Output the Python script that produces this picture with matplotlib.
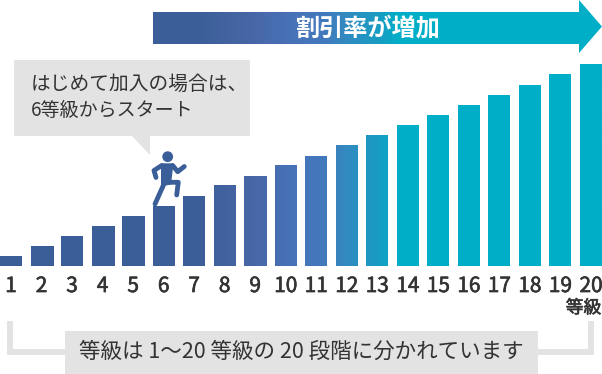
import numpy as np
import matplotlib
matplotlib.use("Agg")
import matplotlib.pyplot as plt
import matplotlib.patheffects as pe
from matplotlib.colors import LinearSegmentedColormap
from matplotlib.patches import Polygon, Rectangle, Circle

plt.rcParams['font.family'] = ['Noto Sans CJK JP', 'DejaVu Sans']

grades = list(range(1, 21))
heights = [10, 20, 30, 40, 50, 60, 70, 81, 90, 101, 110, 121, 131, 141, 151, 161, 171, 181, 192, 202]
tick_labels = [str(g) for g in grades]
arrow_label = "割引率が増加"
callout_lines = ["はじめて加入の場合は、", "6等級からスタート"]
unit_label = "等級"
footer_label = "等級は 1〜20 等級の 20 段階に分かれています"

W, H = 602, 374
DARK = "#333333"
GRAY = "#e3e3e3"
BLUE = "#3a5e97"
faux = [pe.withStroke(linewidth=0.45, foreground=DARK)]

stops = [(0, "#3a5e97"), (200, "#3c5f99"), (250, "#4766a6"), (292, "#4872b8"),
         (325, "#4279bd"), (345, "#3389c0"), (380, "#189dc3"), (400, "#01aec8"), (602, "#00afc8")]
cmap = LinearSegmentedColormap.from_list("g", [(p / W, c) for p, c in stops])
grad = np.linspace(0, 1, W * 2).reshape(1, -1)

fig = plt.figure(figsize=(W / 100, H / 100), dpi=100, facecolor="white")

# Chart axes: spans full width; baseline at y=266 px, top at y=0 px
ax = fig.add_axes([0, (H - 266) / H, 1, 266 / H])
pitch = 580 / 19
x0 = 1 - 11 / pitch
x1 = 20 + 11 / pitch
bars = ax.bar(grades, heights, width=22 / pitch, color=BLUE, linewidth=0, zorder=2)
for b in bars:
    im = ax.imshow(grad, cmap=cmap, vmin=0, vmax=1, aspect="auto",
                   extent=(x0, x1, 0, 266), zorder=3, interpolation="bilinear")
    im.set_clip_path(b)
ax.set_xlim(x0, x1)
ax.set_ylim(0, 266)
ax.set_xticks(grades)
ax.set_xticklabels(tick_labels, fontsize=15, color=DARK, path_effects=faux)
ax.tick_params(axis="x", length=0, pad=6.5)
ax.set_yticks([])
for s in ax.spines.values():
    s.set_visible(False)
ax.patch.set_alpha(0)

# Overlay in pixel coordinates
ov = fig.add_axes([0, 0, 1, 1], zorder=5)
ov.set_xlim(0, W)
ov.set_ylim(H, 0)
ov.axis("off")

# Arrow
arrow = Polygon([(153, 12), (579, 12), (579, 0), (602, 26.5), (579, 53), (579, 44), (153, 44)],
                closed=True, facecolor="none", edgecolor="none", transform=ov.transData)
ov.add_patch(arrow)
im = ov.imshow(grad, cmap=cmap, vmin=0, vmax=1, aspect="auto", extent=(0, W, H, 0), zorder=1)
im.set_clip_path(arrow)
ov.set_xlim(0, W)
ov.set_ylim(H, 0)
ov.text(367, 28, arrow_label, color="white", fontsize=17.4, fontweight="bold",
        ha="center", va="center", zorder=3)

# Callout
ov.add_patch(Rectangle((14, 60), 236, 76, facecolor=GRAY, edgecolor="none"))
ov.add_patch(Polygon([(132, 136), (150, 136), (150, 155)], closed=True, facecolor=GRAY, edgecolor="none"))
ov.text(31, 84, callout_lines[0], color=DARK, fontsize=14.2, ha="left", va="center")
ov.text(31, 110, callout_lines[1], color=DARK, fontsize=13.7, ha="left", va="center")

# Runner icon
lw = 4.8 * 0.72
ov.add_patch(Circle((167.7, 156.7), 5.4, facecolor=BLUE, edgecolor="none"))
limbs = [
    [(161.7, 165.5), (154, 170.5), (156, 177.5)],
    [(172.7, 165.5), (177.7, 171.7), (184.3, 166.5)],
    [(169, 182.3), (178.3, 182.3), (176.7, 195)],
    [(163.5, 185), (155, 204)],
]
for seg in limbs:
    xs, ys = zip(*seg)
    ov.plot(xs, ys, color=BLUE, lw=lw, solid_capstyle="round", solid_joinstyle="round")
ov.add_patch(Polygon([(161, 163.3), (173.5, 163.3), (171, 184.5), (161, 186.5)], closed=True,
                     facecolor=BLUE, edgecolor="none"))

# Unit label
ov.text(583.5, 308, unit_label, color=DARK, fontsize=12.8, ha="center", va="center", path_effects=faux)

# Footer bracket
ov.add_patch(Rectangle((7, 321), 6, 34, facecolor=GRAY, edgecolor="none"))
ov.add_patch(Rectangle((7, 349), 587, 6, facecolor=GRAY, edgecolor="none"))
ov.add_patch(Rectangle((588, 321), 6, 34, facecolor=GRAY, edgecolor="none"))
ov.add_patch(Rectangle((65, 331), 473, 43, facecolor=GRAY, edgecolor="none"))
ov.text(301, 352, footer_label, color=DARK, fontsize=15.5, ha="center", va="center")

fig.savefig("out.png", dpi=100, facecolor="white")
